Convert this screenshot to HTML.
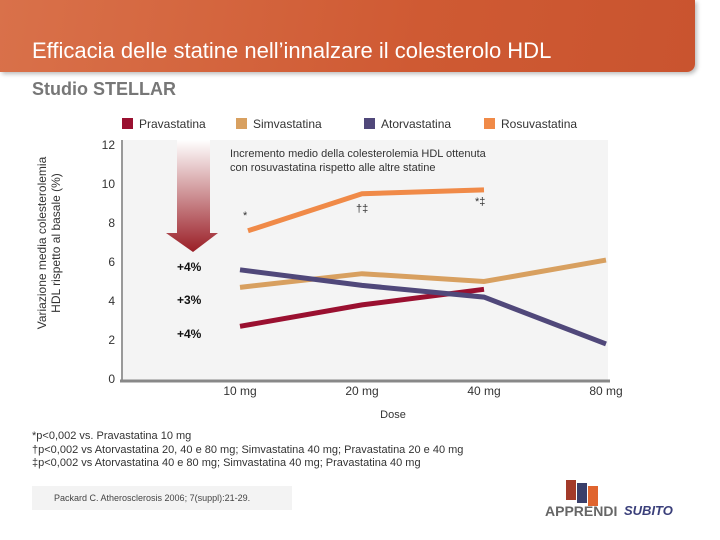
<!DOCTYPE html>
<html><head><meta charset="utf-8"><style>
body{margin:0;width:720px;height:540px;background:#fff;font-family:"Liberation Sans",sans-serif;overflow:hidden;position:relative}
.abs{position:absolute}
</style></head><body>
<div class="abs" style="left:0;top:0;width:695px;height:72px;background:linear-gradient(100deg,#d9714a,#cf5a33 60%,#c9542f);border-radius:0 0 8px 0;box-shadow:2px 2px 4px #bbb"></div>
<div class="abs" style="left:32px;top:38px;font-size:22px;color:#fff">Efficacia delle statine nell’innalzare il colesterolo HDL</div>
<div class="abs" style="left:32px;top:79px;font-size:18px;font-weight:bold;color:#777">Studio STELLAR</div>
<svg class="abs" style="left:0;top:0" width="720" height="540">
<defs><linearGradient id="ag" x1="0" y1="0" x2="0" y2="1"><stop offset="0" stop-color="#fff"/><stop offset="1" stop-color="#9a1e26"/></linearGradient></defs>
<g id="legend" font-size="12" fill="#333"></g>
<rect x="122" y="140" width="486" height="240" fill="#f4f4f4"/>
<line x1="122" y1="140" x2="122" y2="381" stroke="#999" stroke-width="2"/>
<line x1="120" y1="381" x2="610" y2="381" stroke="#888" stroke-width="3"/>
<polygon points="177,140 210,140 210,233 218,233 193,252 166,233 177,233" fill="url(#ag)"/>
<g id="yticks" font-size="12" fill="#333" text-anchor="end"></g>
<g id="xticks" font-size="12" fill="#333" text-anchor="middle"></g>
<g id="series"></g>
<text x="230" y="157" font-size="11" fill="#333">Incremento medio della colesterolemia HDL ottenuta</text>
<text x="230" y="171" font-size="11" fill="#333">con rosuvastatina rispetto alle altre statine</text>
<text x="243" y="219" font-size="11" fill="#333">*</text>
<text x="356" y="212" font-size="11" fill="#333">†‡</text>
<text x="475" y="205" font-size="11" fill="#333">*‡</text>
<text x="177" y="271" font-size="12" font-weight="bold" fill="#111">+4%</text>
<text x="177" y="304" font-size="12" font-weight="bold" fill="#111">+3%</text>
<text x="177" y="338" font-size="12" font-weight="bold" fill="#111">+4%</text>
<text x="393" y="418" font-size="11" fill="#333" text-anchor="middle">Dose</text>
<text transform="translate(46,243) rotate(-90)" font-size="12" fill="#333" text-anchor="middle">Variazione media colesterolemia</text>
<text transform="translate(60,243) rotate(-90)" font-size="12" fill="#333" text-anchor="middle">HDL rispetto al basale (%)</text>
</svg>
<div class="abs" style="left:32px;top:430px;font-size:11px;color:#333;line-height:13.5px">*p&lt;0,002 vs. Pravastatina 10 mg<br>†p&lt;0,002 vs Atorvastatina 20, 40 e 80 mg; Simvastatina 40 mg; Pravastatina 20 e 40 mg<br>‡p&lt;0,002 vs Atorvastatina 40 e 80 mg; Simvastatina 40 mg; Pravastatina 40 mg</div>
<div class="abs" style="left:32px;top:486px;width:260px;height:24px;background:#f3f3f3;font-size:9px;color:#444;line-height:24px;padding-left:22px;box-sizing:border-box">Packard C. Atherosclerosis 2006; 7(suppl):21-29.</div>
<div class="abs" style="left:566px;top:480px;width:10px;height:20px;background:#a33a2a"></div>
<div class="abs" style="left:577px;top:483px;width:10px;height:20px;background:#3a3f6a"></div>
<div class="abs" style="left:588px;top:486px;width:10px;height:20px;background:#e0642e"></div>
<div class="abs" style="left:545px;top:503px;font-size:14px;font-weight:bold;color:#666">APPRENDI</div>
<div class="abs" style="left:624px;top:503px;font-size:13px;font-weight:bold;font-style:italic;color:#3a3f7a">SUBITO</div>
<script>
const categories=["10 mg","20 mg","40 mg","80 mg"];
const yTicks=[0,2,4,6,8,10,12];
const seriesNames=["Pravastatina","Simvastatina","Atorvastatina","Rosuvastatina"];
const seriesColors=["#9a1030","#d8a060","#50487a","#f08a48"];
const prava=[2.7,3.8,4.6,null];
const simva=[4.7,5.4,5.0,6.1];
const atorva=[5.6,4.8,4.2,1.8];
const rosu=[7.6,9.5,9.7,null];
const NS="http://www.w3.org/2000/svg";
function xS(i){return 240+i*122;}
function yS(v){return 379-v*19.5;}
function mk(t,a,p){const e=document.createElementNS(NS,t);for(const k in a)e.setAttribute(k,a[k]);p.appendChild(e);return e;}
const yt=document.getElementById('yticks');
yTicks.forEach(v=>{const t=mk('text',{x:115,y:yS(v)+4},yt);t.textContent=v;

});
const xt=document.getElementById('xticks');
categories.forEach((c,i)=>{const t=mk('text',{x:xS(i),y:395},xt);t.textContent=c;

});
const lg=document.getElementById('legend');
const lx=[122,236,364,484];
seriesNames.forEach((n,i)=>{const r=mk('rect',{x:lx[i],y:118,width:11,height:11,fill:seriesColors[i]},lg);


const t=mk('text',{x:lx[i]+17,y:128},lg);t.textContent=n;

});
const sg=document.getElementById('series');
[prava,simva,atorva,rosu].forEach((s,k)=>{const pts=[];s.forEach((v,i)=>{if(v!==null)pts.push(xS(i)+(k==3&&i==0?8:0)+','+yS(v));});
const p=mk('polyline',{points:pts.join(' '),fill:'none',stroke:seriesColors[k],'stroke-width':5},sg);

});
</script>
</body></html>
